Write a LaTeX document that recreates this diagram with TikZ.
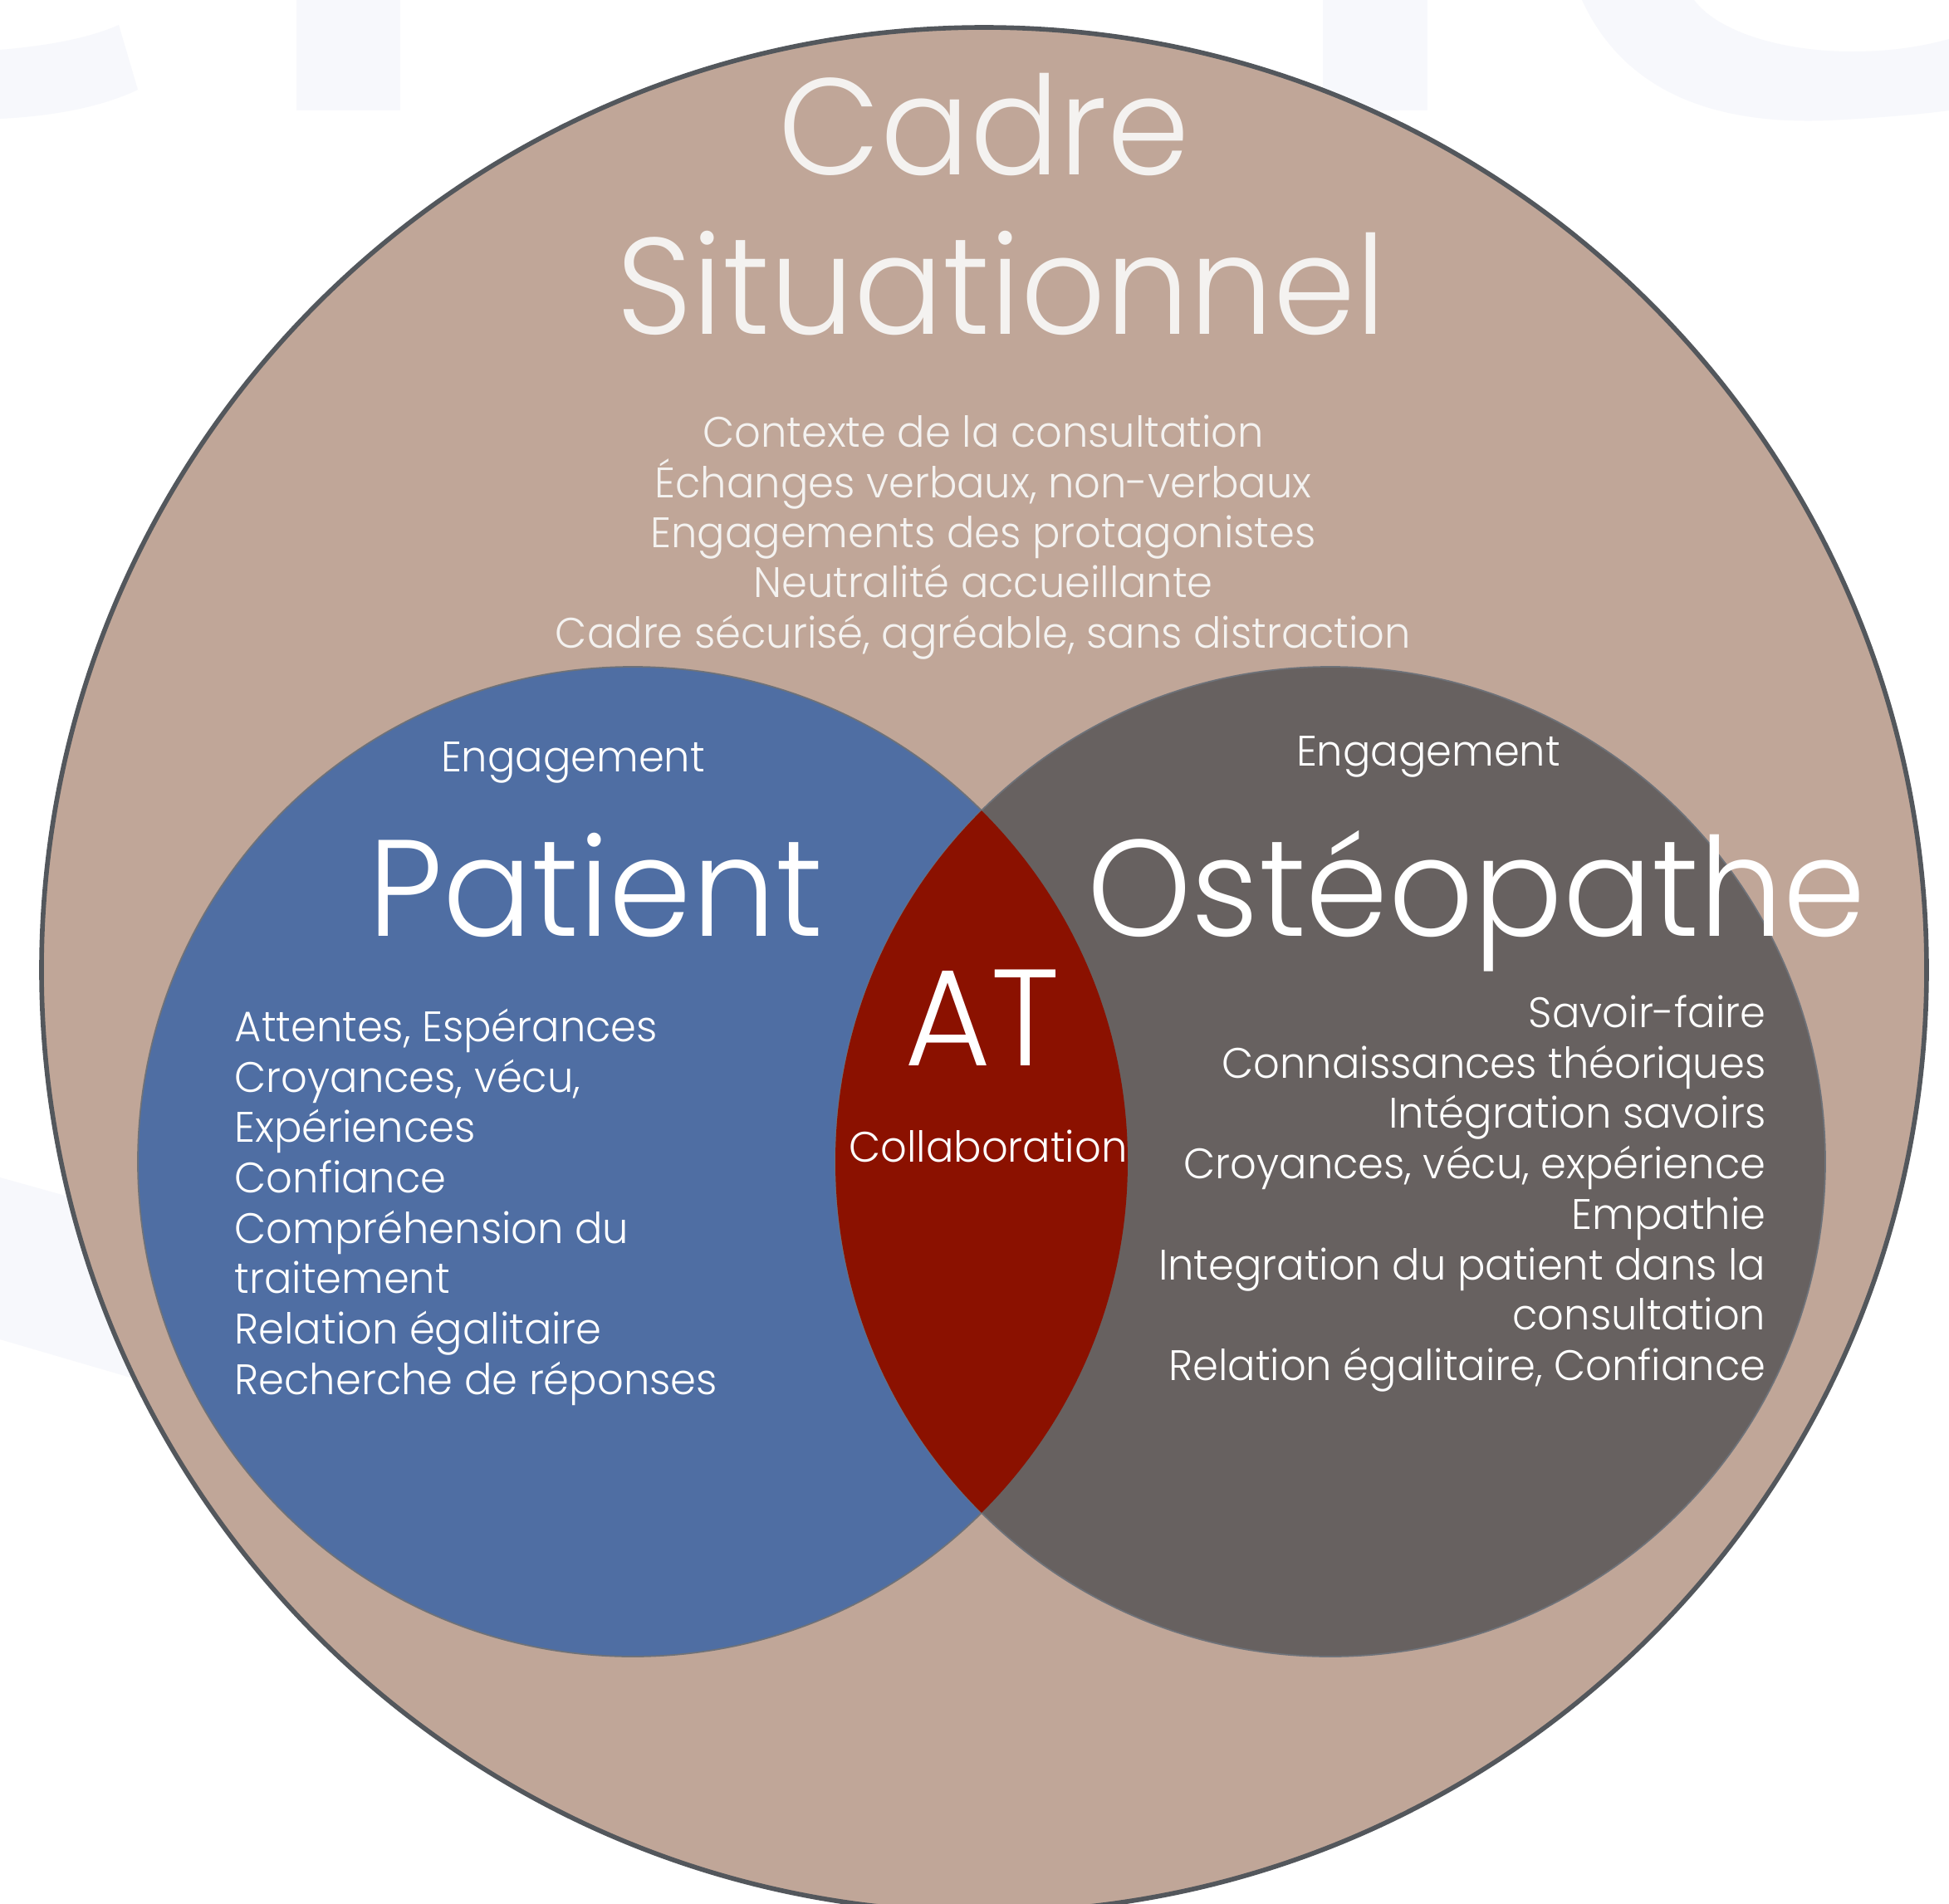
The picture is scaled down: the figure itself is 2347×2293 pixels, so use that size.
\documentclass[tikz,border=0pt]{standalone}
\usepackage{fontspec}
\setmainfont{Poppins Light}[FakeStretch=0.965]
\definecolor{taupe}{HTML}{C0A698}
\definecolor{pblue}{HTML}{4F6EA3}
\definecolor{ogray}{HTML}{676160}
\definecolor{atred}{HTML}{8B1100}
\definecolor{rimline}{HTML}{53575C}
\definecolor{thinline}{HTML}{6E7279}
\definecolor{wm}{HTML}{F7F8FC}
\definecolor{offwhite}{HTML}{F4F2F0}
\newcommand{\fbig}{\fontsize{47pt}{47pt}\selectfont}
\newcommand{\fsmall}{\fontsize{14.6pt}{14.6pt}\selectfont}
\tikzset{
  bigtxt/.style={text=white, inner sep=0pt, font=\fbig, anchor=base},
  smalltxt/.style={text=white, inner sep=0pt, font=\fsmall},
  ctxtxt/.style={smalltxt, text=offwhite, anchor=base},
  lefttxt/.style={smalltxt, anchor=base west},
  righttxt/.style={smalltxt, anchor=base east},
  watermark/.style={fill=wm, draw=none}
}
\begin{document}
\begin{tikzpicture}[x=0.01cm, y=-0.01cm]
\useasboundingbox (0,0) rectangle (2347,2293);
\fill[white] (0,0) rectangle (2347,2293);
% faint background shapes
\fill[watermark] (357,0) rectangle (482,133);
\fill[watermark] (1593,0) rectangle (1719,133);
\fill[watermark] (0,60) .. controls (60,55) and (110,45) .. (143,30) -- (166,108) .. controls (120,130) and (60,140) .. (0,143) -- cycle;
\fill[watermark] (1905,0) .. controls (1960,120) and (2080,150) .. (2202,145) .. controls (2260,142) and (2310,138) .. (2347,133) -- (2347,47) .. controls (2300,60) and (2260,62) .. (2229,62) .. controls (2150,62) and (2070,40) .. (2040,0) -- cycle;
\fill[watermark] (0,1418) -- (400,1530) -- (400,1730) -- (0,1613) -- cycle;
% circles
\path[fill=taupe, draw=rimline, line width=1.6pt] (1185,1168) circle[radius=1135] node (cadre) {};
\path[fill=pblue, draw=thinline, line width=0.5pt] (762,1399) circle[radius=596] node (patc) {};
\path[fill=ogray, draw=thinline, line width=0.5pt] (1602,1399) circle[radius=596] node (ostc) {};
\begin{scope}
  \clip (762,1399) circle[radius=596];
  \fill[atred] (1602,1399) circle[radius=596];
\end{scope}
% title
\node[bigtxt, text=offwhite] (t1) at (1185,210) {Cadre};
\node[bigtxt, text=offwhite] (t2) at (1206,402) {Situationnel};
% context lines
\node[ctxtxt] (c1) at (1184,538) {Contexte de la consultation};
\node[ctxtxt] (c2) at (1184,599) {Échanges verbaux, non-verbaux};
\node[ctxtxt] (c3) at (1184,659) {Engagements des protagonistes};
\node[ctxtxt] (c4) at (1184,719) {Neutralité accueillante};
\node[ctxtxt] (c5) at (1184,780) {Cadre sécurisé, agréable, sans distraction};
% engagement
\node[smalltxt, anchor=base] (e1) at (690,929) {Engagement};
\node[smalltxt, anchor=base] (e2) at (1720,922) {Engagement};
% big labels
\node[bigtxt] (pat) at (717,1127) {Patient};
\node[bigtxt] (ost) at (1778,1127) {Ostéopathe};
\node[bigtxt] (at) at (1183,1283) {AT};
\node[smalltxt, anchor=base] (col) at (1190,1399) {Collaboration};
% patient list
\node[lefttxt] (p1) at (282,1254) {Attentes, Espérances};
\node[lefttxt] (p2) at (282,1315) {Croyances, vécu,};
\node[lefttxt] (p3) at (282,1375) {Expériences};
\node[lefttxt] (p4) at (282,1436) {Confiance};
\node[lefttxt] (p5) at (282,1497) {Compréhension du};
\node[lefttxt] (p6) at (282,1557) {traitement};
\node[lefttxt] (p7) at (282,1618) {Relation égalitaire};
\node[lefttxt] (p8) at (282,1679) {Recherche de réponses};
% osteopathe list
\node[righttxt] (o1) at (2127,1237) {Savoir-faire};
\node[righttxt] (o2) at (2127,1298) {Connaissances théoriques};
\node[righttxt] (o3) at (2127,1358) {Intégration savoirs};
\node[righttxt] (o4) at (2127,1419) {Croyances, vécu, expérience};
\node[righttxt] (o5) at (2127,1480) {Empathie};
\node[righttxt] (o6) at (2127,1541) {Integration du patient dans la};
\node[righttxt] (o7) at (2127,1601) {consultation};
\node[righttxt] (o8) at (2127,1662) {Relation égalitaire, Confiance};
\end{tikzpicture}
\end{document}
